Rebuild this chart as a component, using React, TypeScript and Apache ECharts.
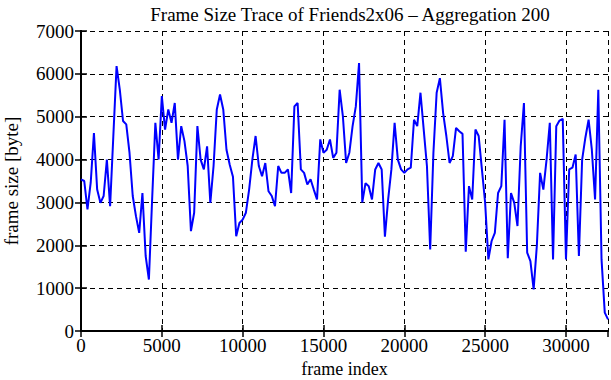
import React, { useEffect, useRef } from "react";
import * as echarts from "echarts";

const TITLE = "Frame Size Trace of Friends2x06 \u2013 Aggregation 200";
const X_NAME = "frame index";
const Y_NAME = "frame size [byte]";
const AGGREGATION = 200;
const X_MAX = 32600;
const Y_MAX = 7000;

const frameSizes: number[] = [
  3540, 3500, 2840, 3460, 4620, 3300, 2990, 3150, 4000, 2910,
  4550, 6180, 5630, 4900, 4820, 4160, 3150, 2680, 2290, 3220,
  1750, 1200, 3070, 4860, 4000, 5480, 4700, 5170, 4860, 5320,
  4000, 4780, 4430, 3850, 2330, 2760, 4780, 4000, 3770, 4310,
  2990, 3850, 5170, 5520, 5170, 4230, 3880, 3600, 2210, 2520,
  2600, 2760, 3300, 4000, 4550, 3850, 3610, 3920, 3260, 3150,
  2910, 3850, 3690, 3690, 3770, 3220, 5240, 5320, 3770, 3690,
  3420, 3540, 3300, 3070, 4470, 4160, 4230, 4470, 4040, 4160,
  5630, 5010, 3920, 4160, 4780, 5240, 6250, 3000, 3450, 3380,
  3070, 3770, 3920, 3770, 2200, 3070, 3770, 4860, 4000, 3770,
  3690, 3770, 3810, 4930, 4780, 5560, 4700, 3850, 1900, 4160,
  5560, 5900, 5090, 4550, 3920, 4080, 4740, 4660, 4600, 1850,
  3380, 3070, 4700, 4550, 3770, 2990, 1670, 2100, 2290, 3220,
  3380, 4930, 1700, 3220, 2990, 2450, 4310, 5320, 1830, 1630,
  970, 2000, 3690, 3300, 4000, 4860, 1670, 4780, 4910, 4950,
  1670, 3770, 3810, 4120, 1750, 4000, 4510, 4930, 4230, 3070,
  5630, 1670, 430, 270,
];

const FONT = "'Liberation Serif', 'DejaVu Serif', serif";

export default function App() {
  const ref = useRef<HTMLDivElement>(null);

  useEffect(() => {
    document.body.style.margin = "0";
    if (!ref.current) return;
    const chart = echarts.init(ref.current, undefined, { renderer: "svg" });
    const data = frameSizes.map((v, i) => [i * AGGREGATION, v]);
    const axisLine = { show: true, lineStyle: { color: "#000", width: 2 } };
    const tick = { show: true, inside: true, length: 6, lineStyle: { color: "#000", width: 1.5 } };
    const split = { show: true, lineStyle: { color: "#000", width: 1, type: [5, 4] as any } };
    const labelStyle = { color: "#000", fontFamily: FONT, fontSize: 19 };
    chart.setOption({
      animation: false,
      title: {
        text: TITLE,
        left: 345,
        top: 0,
        textAlign: "center",
        textStyle: { fontFamily: FONT, fontSize: 19, fontWeight: "normal", color: "#000" },
      },
      grid: { left: 81, right: 3, top: 31, bottom: 49, containLabel: false, outerBoundsMode: "none" },
      xAxis: [
        {
          type: "value",
          min: 0,
          max: X_MAX,
          interval: 5000,
          name: X_NAME,
          nameLocation: "middle",
          nameGap: 28,
          nameTextStyle: { ...labelStyle, fontSize: 18 },
          axisLine,
          axisTick: tick,
          splitLine: split,
          axisLabel: {
            ...labelStyle,
            margin: 5,
            showMaxLabel: false,
            formatter: (v: number) => (v % 5000 === 0 ? String(v) : ""),
          },
        },
        {
          type: "value",
          position: "top",
          min: 0,
          max: X_MAX,
          interval: 5000,
          axisLine,
          axisTick: tick,
          splitLine: { show: false },
          axisLabel: { show: false },
        },
      ],
      yAxis: [
        {
          type: "value",
          min: 0,
          max: Y_MAX,
          interval: 1000,
          name: Y_NAME,
          nameLocation: "middle",
          nameGap: 60,
          nameTextStyle: { ...labelStyle },
          axisLine,
          axisTick: tick,
          splitLine: split,
          axisLabel: { ...labelStyle, margin: 7, formatter: (v: number) => String(v) },
        },
        {
          type: "value",
          position: "right",
          min: 0,
          max: Y_MAX,
          interval: 1000,
          axisLine,
          axisTick: tick,
          splitLine: { show: false },
          axisLabel: { show: false },
        },
      ],
      series: [
        {
          type: "line",
          data,
          xAxisIndex: 0,
          yAxisIndex: 0,
          showSymbol: false,
          symbol: "none",
          lineStyle: { color: "#0000ff", width: 2 },
          z: 3,
        },
      ],
    });
    return () => chart.dispose();
  }, []);

  return (
    <div
      ref={ref}
      style={{ position: "fixed", left: 0, top: 0, width: 611, height: 380, background: "#fff" }}
    />
  );
}
